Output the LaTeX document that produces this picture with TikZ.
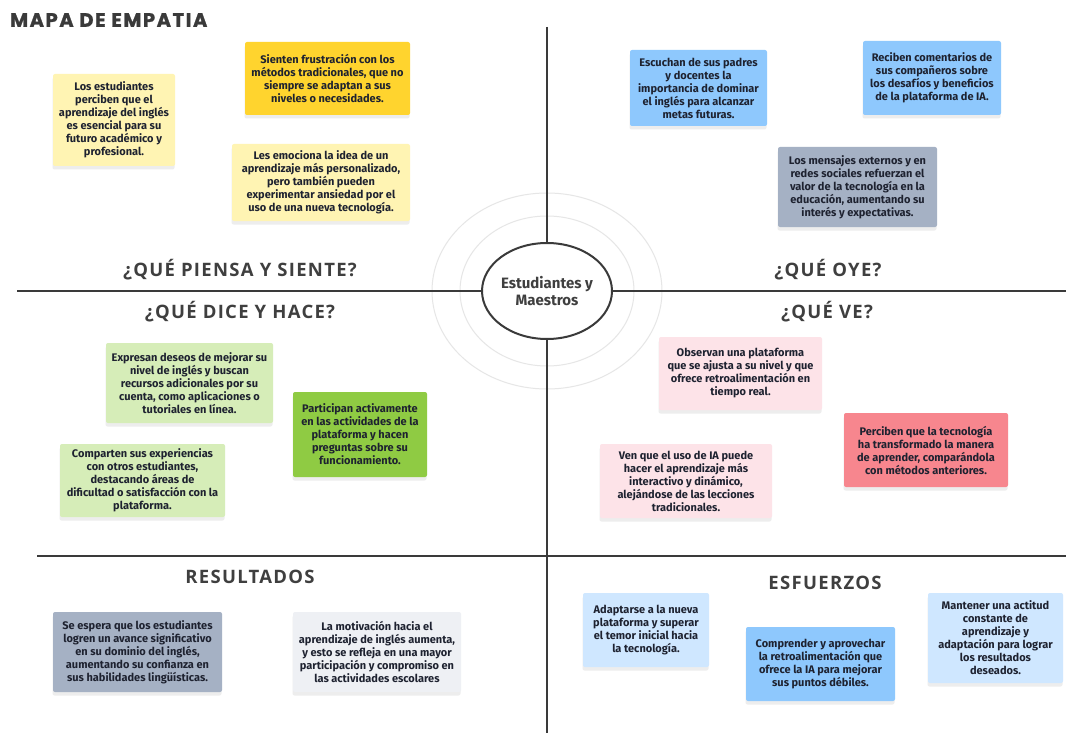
\documentclass[tikz,border=0pt]{standalone}
\usepackage{fontspec}
\setmainfont{Fira Sans}
\newfontfamily\headfont{Open Sans}[LetterSpace=7]
\newfontfamily\mapafont{Poppins}[LetterSpace=8,BoldFeatures={FakeBold=1.2}]
\usetikzlibrary{calc,shadows,shapes,positioning,backgrounds}
\definecolor{linea}{HTML}{3A3A3A}
\definecolor{titulo}{HTML}{3F3F3F}
\definecolor{texto}{HTML}{1E2230}
\definecolor{anillo}{HTML}{E6E6E6}
\definecolor{amarilloclaro}{HTML}{FFF4B3}
\definecolor{amarillo}{HTML}{FFD42E}
\definecolor{azul}{HTML}{8EC8FD}
\definecolor{azulgris}{HTML}{A5B1C4}
\definecolor{verdeclaro}{HTML}{D6EDB8}
\definecolor{verde}{HTML}{8FCB43}
\definecolor{rosaclaro}{HTML}{FDE3E8}
\definecolor{rosa}{HTML}{F7868E}
\definecolor{grisclaro}{HTML}{EEF0F4}
\definecolor{azulclaro}{HTML}{CFE7FF}

\begin{document}
\begin{tikzpicture}[x=1pt,y=-1pt]
    \tikzstyle{nota}=[rectangle,rounded corners=2pt,align=center,text=texto,inner sep=2pt,
        font=\bfseries\fontsize{11}{13}\selectfont,
        drop shadow={shadow xshift=-0.5pt,shadow yshift=-3.5pt,opacity=0.14}]
    \tikzstyle{titulo}=[font=\headfont\bfseries\fontsize{18.5}{22}\selectfont,text=titulo]
    \tikzstyle{eje}=[draw=linea,line width=2.3pt]
    \tikzstyle{centro}=[ellipse,draw=linea,line width=2pt,fill=white,minimum width=112,minimum height=96,
        inner sep=0pt,align=center,text=titulo,font=\bfseries\fontsize{15}{17}\selectfont]

\path[fill=white,use as bounding box] (0,0) rectangle (1066,733);

% Titulo
\node[font=\mapafont\bfseries\fontsize{19.5}{21}\selectfont,text=linea,anchor=west,inner sep=0pt] (mapa) at (10,20) {MAPA DE EMPATIA};

% Anillos y centro
\draw[anillo,line width=1pt] (547,291) ellipse (115 and 98);
\draw[anillo,line width=1pt] (547,291) ellipse (87 and 75);
\node[centro] (C) at (547,291) {Estudiantes y\\Maestros};

% Ejes
\coordinate (arriba) at (547,27);
\coordinate (abajo) at (547,733);
\coordinate (izq) at (17,291);
\coordinate (der) at (1066,291);
\coordinate (izq2) at (37,556);
\coordinate (der2) at (1066,556);
\draw[eje] (arriba) -- (C.north);
\draw[eje] (C.south) -- (abajo);
\draw[eje] (izq) -- (C.west);
\draw[eje] (C.east) -- (der);
\draw[eje] (izq2) -- (der2);

% Cuadrantes
\node[titulo] (piensa) at (240,270) {¿QUÉ PIENSA Y SIENTE?};
\node[titulo] (dice) at (240,312) {¿QUÉ DICE Y HACE?};
\node[titulo] (oye) at (828,270) {¿QUÉ OYE?};
\node[titulo] (ve) at (827,312) {¿QUÉ VE?};
\node[titulo] (result) at (250,577) {RESULTADOS};
\node[titulo] (esfuerzo) at (825,583) {ESFUERZOS};

% Piensa y siente
\node[nota,fill=amarilloclaro,minimum width=122,minimum height=92] (P-1) at (114,120)
    {Los estudiantes\\perciben que el\\aprendizaje del inglés\\es esencial para su\\futuro académico y\\profesional.};
\node[nota,fill=amarillo,minimum width=165,minimum height=73] (P-2) at (327.5,78.5)
    {Sienten frustración con los\\métodos tradicionales, que no\\siempre se adaptan a sus\\niveles o necesidades.};
\node[nota,fill=amarilloclaro,minimum width=178,minimum height=77] (P-3) at (321,182.5)
    {Les emociona la idea de un\\aprendizaje más personalizado,\\pero también pueden\\experimentar ansiedad por el\\uso de una nueva tecnología.};

% Oye
\node[nota,fill=azul,minimum width=137,minimum height=76] (O-1) at (698.5,88)
    {Escuchan de sus padres\\y docentes la\\importancia de dominar\\el inglés para alcanzar\\metas futuras.};
\node[nota,fill=azul,minimum width=138,minimum height=74] (O-2) at (932,78)
    {Reciben comentarios de\\sus compañeros sobre\\los desafíos y beneficios\\de la plataforma de IA.};
\node[nota,fill=azulgris,minimum width=159,minimum height=80] (O-3) at (857.5,187)
    {Los mensajes externos y en\\redes sociales refuerzan el\\valor de la tecnología en la\\educación, aumentando su\\interés y expectativas.};

% Dice y hace
\node[nota,fill=verdeclaro,minimum width=167,minimum height=80] (D-1) at (189.5,383)
    {Expresan deseos de mejorar su\\nivel de inglés y buscan\\recursos adicionales por su\\cuenta, como aplicaciones o\\tutoriales en línea.};
\node[nota,fill=verde,minimum width=134,minimum height=85] (D-2) at (360,434.5)
    {Participan activamente\\en las actividades de la\\plataforma y hacen\\preguntas sobre su\\funcionamiento.};
\node[nota,fill=verdeclaro,minimum width=165,minimum height=73] (D-3) at (142.5,480.5)
    {Comparten sus experiencias\\con otros estudiantes,\\destacando áreas de\\dificultad o satisfacción con la\\plataforma.};

% Ve
\node[nota,fill=rosaclaro,minimum width=163,minimum height=73] (V-1) at (740.5,373.5)
    {Observan una plataforma\\que se ajusta a su nivel y que\\ofrece retroalimentación en\\tiempo real.};
\node[nota,fill=rosa,minimum width=164,minimum height=74] (V-2) at (926,450)
    {Perciben que la tecnología\\ha transformado la manera\\de aprender, comparándola\\con métodos anteriores.};
\node[nota,fill=rosaclaro,minimum width=172,minimum height=74] (V-3) at (686,481)
    {Ven que el uso de IA puede\\hacer el aprendizaje más\\interactivo y dinámico,\\alejándose de las lecciones\\tradicionales.};

% Resultados
\node[nota,fill=azulgris,minimum width=169,minimum height=80] (R-1) at (137.5,652)
    {Se espera que los estudiantes\\logren un avance significativo\\en su dominio del inglés,\\aumentando su confianza en\\sus habilidades lingüísticas.};
\node[nota,fill=grisclaro,minimum width=168,minimum height=80] (R-2) at (377,652)
    {La motivación hacia el\\aprendizaje de inglés aumenta,\\y esto se refleja en una mayor\\participación y compromiso en\\las actividades escolares};

% Esfuerzos
\node[nota,fill=azulclaro,minimum width=126,minimum height=74] (E-1) at (646,630)
    {Adaptarse a la nueva\\plataforma y superar\\el temor inicial hacia\\la tecnología.};
\node[nota,fill=azul,minimum width=149,minimum height=74] (E-2) at (820.5,664)
    {Comprender y aprovechar\\la retroalimentación que\\ofrece la IA para mejorar\\sus puntos débiles.};
\node[nota,fill=azulclaro,minimum width=135,minimum height=90] (E-3) at (995.5,638)
    {Mantener una actitud\\constante de\\aprendizaje y\\adaptación para lograr\\los resultados\\deseados.};

\end{tikzpicture}
\end{document}
